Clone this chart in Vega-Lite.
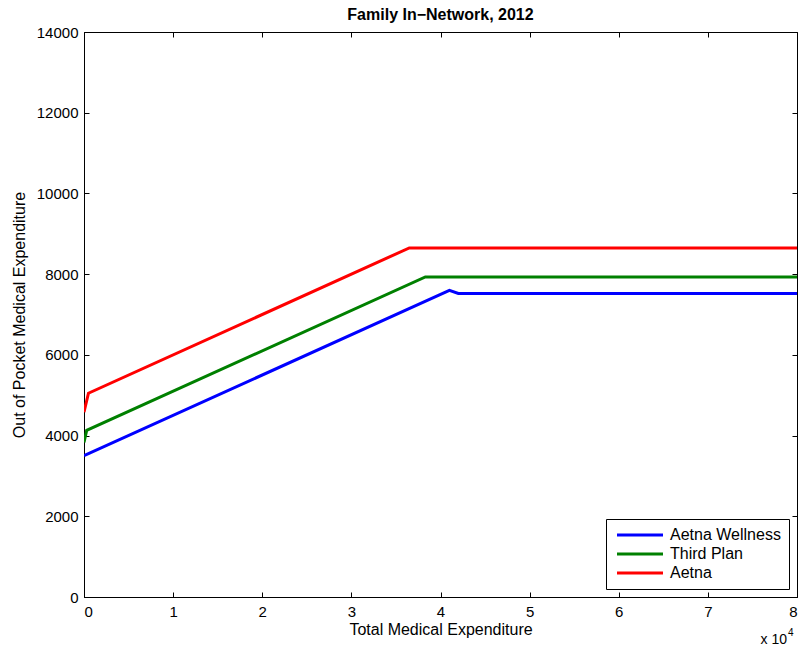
{
  "$schema": "https://vega.github.io/schema/vega-lite/v6.json",
  "width": 713,
  "height": 565,
  "autosize": "none",
  "padding": {"left": 84, "top": 32, "right": 4, "bottom": 51},
  "background": "white",
  "title": {
    "text": "Family In−Network, 2012",
    "font": "Liberation Sans",
    "fontSize": 16,
    "fontWeight": "bold",
    "color": "black",
    "offset": 2
  },
  "config": {
    "font": "Liberation Sans",
    "view": {"stroke": "black", "strokeWidth": 1},
    "axis": {
      "grid": false,
      "domainColor": "black",
      "tickColor": "black",
      "tickSize": -5,
      "labelColor": "black",
      "labelFontSize": 15,
      "labelFont": "Liberation Sans",
      "titleColor": "black",
      "titleFont": "Liberation Sans",
      "titleFontSize": 16,
      "titleFontWeight": "normal"
    },
    "legend": {
      "orient": "bottom-right",
      "offset": 8,
      "padding": 8,
      "strokeColor": "black",
      "fillColor": "white",
      "symbolType": "M-1,0H8.2",
      "symbolSize": 100,
      "symbolStrokeWidth": 3,
      "labelFontSize": 16,
      "labelColor": "black",
      "labelFont": "Liberation Sans",
      "labelOffset": 40,
      "rowPadding": 3,
      "title": null
    }
  },
  "datasets": {
    "plans": [
      {"plan": "Aetna Wellness", "total": 0, "oop": 3500},
      {"plan": "Aetna Wellness", "total": 41000, "oop": 7600},
      {"plan": "Aetna Wellness", "total": 42000, "oop": 7520},
      {"plan": "Aetna Wellness", "total": 80000, "oop": 7520},
      {"plan": "Third Plan", "total": 0, "oop": 3830},
      {"plan": "Third Plan", "total": 300, "oop": 4130},
      {"plan": "Third Plan", "total": 38300, "oop": 7930},
      {"plan": "Third Plan", "total": 80000, "oop": 7930},
      {"plan": "Aetna", "total": 0, "oop": 4580},
      {"plan": "Aetna", "total": 500, "oop": 5050},
      {"plan": "Aetna", "total": 36500, "oop": 8650},
      {"plan": "Aetna", "total": 80000, "oop": 8650}
    ],
    "multiplier": [{"total": 80000, "oop": 0, "base": "x 10", "power": "4"}]
  },
  "resolve": {"axis": {"x": "independent", "y": "independent"}},
  "layer": [
    {
      "data": {"name": "plans"},
      "mark": {"type": "line", "strokeWidth": 3, "clip": true},
      "encoding": {
        "x": {
          "field": "total",
          "type": "quantitative",
          "scale": {"domain": [0, 80000], "nice": false, "zero": false},
          "axis": {
            "orient": "bottom",
            "title": "Total Medical Expenditure",
            "values": [0, 10000, 20000, 30000, 40000, 50000, 60000, 70000, 80000],
            "labelExpr": "datum.value / 10000",
            "labelPadding": 12,
            "titlePadding": 2
          }
        },
        "y": {
          "field": "oop",
          "type": "quantitative",
          "scale": {"domain": [0, 14000], "nice": false},
          "axis": {
            "orient": "left",
            "title": "Out of Pocket Medical Expenditure",
            "values": [0, 2000, 4000, 6000, 8000, 10000, 12000, 14000],
            "format": "d",
            "labelPadding": 11,
            "titlePadding": 9
          }
        },
        "color": {
          "field": "plan",
          "type": "nominal",
          "scale": {
            "domain": ["Aetna Wellness", "Third Plan", "Aetna"],
            "range": ["#0000FF", "#008000", "#FF0000"]
          }
        }
      }
    },
    {
      "data": {"name": "multiplier"},
      "mark": {"type": "text", "align": "right", "baseline": "alphabetic", "dx": -10, "dy": 47, "fontSize": 14, "font": "Liberation Sans", "color": "black"},
      "encoding": {
        "x": {
          "field": "total",
          "type": "quantitative",
          "axis": {
            "orient": "top",
            "title": null,
            "labels": false,
            "domain": false,
            "values": [0, 10000, 20000, 30000, 40000, 50000, 60000, 70000, 80000]
          }
        },
        "y": {
          "field": "oop",
          "type": "quantitative",
          "axis": {
            "orient": "right",
            "title": null,
            "labels": false,
            "domain": false,
            "values": [0, 2000, 4000, 6000, 8000, 10000, 12000, 14000]
          }
        },
        "text": {"field": "base"}
      }
    },
    {
      "data": {"name": "multiplier"},
      "mark": {"type": "text", "align": "left", "baseline": "alphabetic", "dx": -9, "dy": 39, "fontSize": 10, "font": "Liberation Sans", "color": "black"},
      "encoding": {
        "x": {"field": "total", "type": "quantitative", "axis": null},
        "y": {"field": "oop", "type": "quantitative", "axis": null},
        "text": {"field": "power"}
      }
    }
  ]
}
